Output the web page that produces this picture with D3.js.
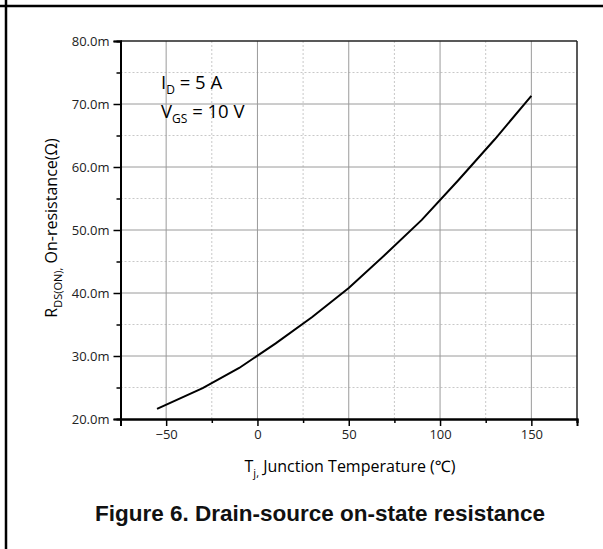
<!DOCTYPE html>
<html><head><meta charset="utf-8">
<script src="https://cdn.jsdelivr.net/npm/d3@7"></script>
<style>body{margin:0;background:#fff}svg{display:block}</style>
</head><body>
<svg id="c" width="603" height="549"></svg>
<script>
const tempC = [-55, -30, -10, 10, 30, 50, 70, 90, 110, 130, 150];
const rdsOn = [21.6, 24.9, 28.1, 32.0, 36.2, 40.8, 46.1, 51.6, 57.9, 64.4, 71.3]; // mΩ
const xMajor = [-50, 0, 50, 100, 150];
const xMinor = [-75, -25, 25, 75, 125, 175];
const yMajor = [20, 30, 40, 50, 60, 70, 80];
const yMinor = [25, 35, 45, 55, 65, 75];

const svg = d3.select("#c");
const L = 120.5, R = 577, T = 41, B = 419;
const x = d3.scaleLinear().domain([-75, 175]).range([L, R]);
const y = d3.scaleLinear().domain([20, 80]).range([B, T]);
const font = "'Open Sans','Noto Sans',sans-serif";

// page frame
svg.append("line").attr("x1",0).attr("x2",603).attr("y1",6).attr("y2",6).attr("stroke","#000").attr("stroke-width",2.5);
svg.append("line").attr("x1",6).attr("x2",6).attr("y1",0).attr("y2",549).attr("stroke","#000").attr("stroke-width",2.5);

// grid
const g = svg.append("g");
g.selectAll(".vmin").data(xMinor.filter(d=>d>-75&&d<175)).join("line")
  .attr("x1",d=>x(d)).attr("x2",d=>x(d)).attr("y1",T).attr("y2",B)
  .attr("stroke","#c8c8c8").attr("stroke-dasharray","2,2");
g.selectAll(".hmin").data(yMinor).join("line")
  .attr("x1",L).attr("x2",R).attr("y1",d=>y(d)).attr("y2",d=>y(d))
  .attr("stroke","#c8c8c8").attr("stroke-dasharray","2,2");
g.selectAll(".vmaj").data(xMajor).join("line")
  .attr("x1",d=>x(d)).attr("x2",d=>x(d)).attr("y1",T).attr("y2",B)
  .attr("stroke","#9a9a9a").attr("stroke-width",1);
g.selectAll(".hmaj").data(yMajor.filter(d=>d>20&&d<80)).join("line")
  .attr("x1",L).attr("x2",R).attr("y1",d=>y(d)).attr("y2",d=>y(d))
  .attr("stroke","#9a9a9a").attr("stroke-width",1);

// frame top/right
svg.append("line").attr("x1",L).attr("x2",R).attr("y1",T).attr("y2",T).attr("stroke","#222").attr("stroke-width",1.5);
svg.append("line").attr("x1",R).attr("x2",R).attr("y1",T).attr("y2",B).attr("stroke","#222").attr("stroke-width",1.5);

// axes
const xAx = svg.append("g").attr("transform",`translate(0,${B})`)
  .call(d3.axisBottom(x).tickValues(xMajor).tickSize(7).tickPadding(4).tickFormat(d3.format("d")));
const xAxMin = svg.append("g").attr("transform",`translate(0,${B})`)
  .call(d3.axisBottom(x).tickValues(xMinor).tickSize(4).tickFormat(""));
const yAx = svg.append("g").attr("transform",`translate(${L},0)`)
  .call(d3.axisLeft(y).tickValues(yMajor).tickSize(7).tickPadding(4).tickFormat(d=>d.toFixed(1)+"m"));
const yAxMin = svg.append("g").attr("transform",`translate(${L},0)`)
  .call(d3.axisLeft(y).tickValues(yMinor).tickSize(4).tickFormat(""));
[xAx,xAxMin,yAx,yAxMin].forEach(a=>{
  a.select(".domain").attr("stroke","#000").attr("stroke-width",2);
  a.selectAll(".tick line").attr("stroke","#000").attr("stroke-width",1.5);
  a.selectAll("text").attr("font-family",font).attr("font-size",13).attr("fill","#222");
});

// curve
const pts = tempC.map((t,i)=>[t, rdsOn[i]]);
svg.append("path").datum(pts)
  .attr("d", d3.line().x(d=>x(d[0])).y(d=>y(d[1])))
  .attr("fill","none").attr("stroke","#000").attr("stroke-width",2);

// annotation
const ann = svg.append("g").attr("font-family",font).attr("font-size",18.5).attr("fill","#000");
const t1 = ann.append("text").attr("x",161).attr("y",89);
t1.append("tspan").text("I");
t1.append("tspan").attr("font-size",12).attr("dy",5).text("D");
t1.append("tspan").attr("dy",-5).text(" = 5 A");
const t2 = ann.append("text").attr("x",161).attr("y",117.5);
t2.append("tspan").text("V");
t2.append("tspan").attr("font-size",12).attr("dy",5).text("GS");
t2.append("tspan").attr("dy",-5).text(" = 10 V");

// x label
const xl = svg.append("text").attr("x",350).attr("y",472).attr("text-anchor","middle")
  .attr("font-family",font).attr("font-size",16).attr("fill","#000");
xl.append("tspan").text("T");
xl.append("tspan").attr("font-size",11).attr("dy",5).text("j,");
xl.append("tspan").attr("dy",-5).text(" Junction Temperature (℃)");

// y label
const yl = svg.append("text").attr("transform","translate(57,228) rotate(-90)").attr("text-anchor","middle")
  .attr("font-family",font).attr("font-size",16).attr("fill","#000");
yl.append("tspan").text("R");
yl.append("tspan").attr("font-size",11).attr("dy",5).text("DS(ON),");
yl.append("tspan").attr("dy",-5).text(" On-resistance(Ω)");

// caption
svg.append("text").attr("x",320).attr("y",521).attr("text-anchor","middle")
  .attr("font-family","'Liberation Sans',Arial,sans-serif").attr("font-weight","bold").attr("font-size",22.5)
  .attr("fill","#111").text("Figure 6. Drain-source on-state resistance");
</script>
</body></html>
